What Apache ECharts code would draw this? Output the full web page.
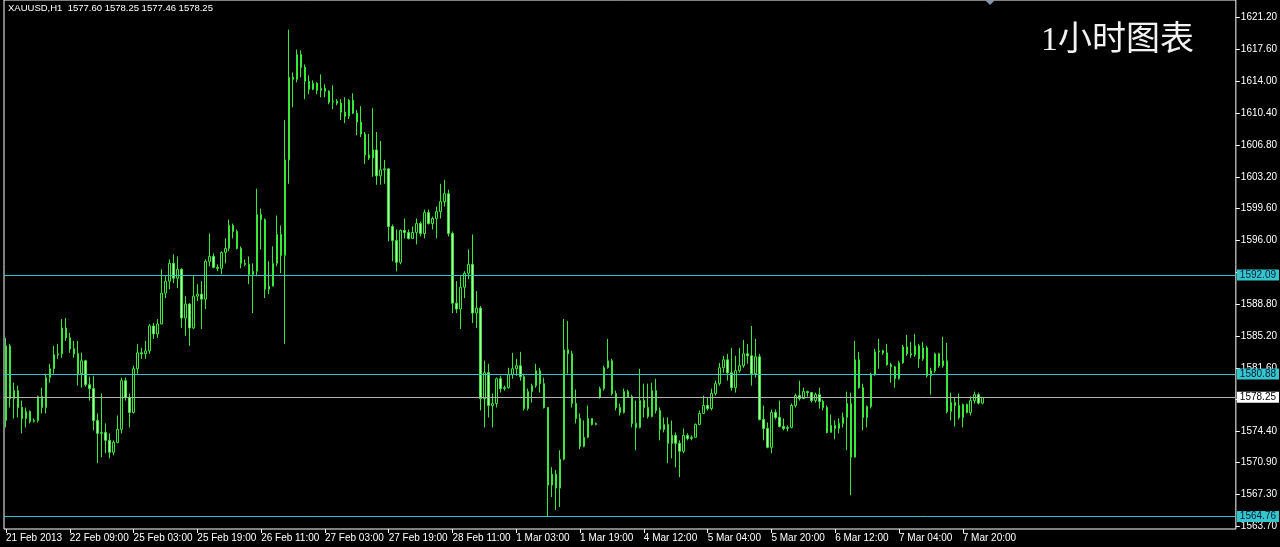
<!DOCTYPE html>
<html>
<head>
<meta charset="utf-8">
<script src="https://cdn.jsdelivr.net/npm/echarts@6/dist/echarts.min.js"></script>
<style>
html,body{margin:0;padding:0;background:#000;}
#chart{width:1280px;height:547px;}
</style>
</head>
<body>
<div id="chart"></div>
<script>
var symbolTitle = 'XAUUSD,H1  1577.60 1578.25 1577.46 1578.25';
var chartLabel = '1小时图表';

var xTickLabels = ['21 Feb 2013','22 Feb 09:00','25 Feb 03:00','25 Feb 19:00','26 Feb 11:00','27 Feb 03:00','27 Feb 19:00','28 Feb 11:00','1 Mar 03:00','1 Mar 19:00','4 Mar 12:00','5 Mar 04:00','5 Mar 20:00','6 Mar 12:00','7 Mar 04:00','7 Mar 20:00'];
var barsPerTick = 16;
var slotCount = 309;

var yTickValues = [1621.2,1617.6,1614.0,1610.4,1606.8,1603.2,1599.6,1596.0,1592.4,1588.8,1585.2,1581.6,1578.0,1574.4,1570.9,1567.3,1563.7];
var yLabelValues = [1621.2,1617.6,1614.0,1610.4,1606.8,1603.2,1599.6,1596.0,1588.8,1585.2,1581.6,1574.4,1570.9,1567.3,1563.7];
var levelLines = [1592.09, 1580.88, 1564.76];
var lastPrice = 1578.25;

var opens = [
1575.64,1584.08,1578.11,1579.01,1577.10,1575.86,1576.65,1575.53,1575.64,1578.34,
1577.10,1580.48,1581.49,1583.06,1583.18,1586.10,1584.98,1583.74,1583.18,1580.93,
1582.39,1579.69,1579.24,1575.64,1574.18,1574.29,1573.39,1572.04,1573.16,1574.63,
1580.14,1578.23,1576.54,1581.49,1583.29,1583.18,1583.51,1586.33,1585.43,1586.55,
1590.04,1591.39,1593.41,1591.73,1592.74,1587.23,1588.80,1586.10,1589.70,1589.93,
1589.36,1593.64,1594.20,1592.96,1592.85,1594.65,1595.10,1597.69,1597.01,1595.10,
1593.41,1593.30,1592.18,1592.51,1598.93,1598.36,1590.49,1590.83,1593.41,1596.68,
1594.31,1605.11,1614.45,1614.23,1617.04,1615.58,1614.00,1613.10,1613.78,1612.99,
1613.21,1612.88,1611.64,1611.75,1611.53,1610.51,1610.06,1611.86,1610.40,1609.39,
1608.04,1605.68,1605.34,1606.24,1603.31,1603.99,1604.10,1597.58,1596.00,1593.53,
1597.13,1596.90,1596.23,1596.90,1597.91,1596.79,1599.15,1597.91,1598.48,1599.26,
1600.39,1601.29,1596.79,1588.91,1588.24,1590.71,1592.29,1593.30,1587.79,1588.35,
1578.11,1581.04,1577.33,1577.55,1580.36,1579.24,1579.35,1580.81,1581.49,1581.83,
1580.59,1576.99,1578.90,1579.58,1581.26,1579.80,1577.10,1568.33,1569.56,1567.99,
1571.25,1583.63,1583.18,1577.55,1575.86,1572.71,1573.73,1575.86,1575.19,1578.23,
1579.24,1581.60,1582.39,1578.68,1577.10,1576.54,1578.90,1578.34,1575.30,1574.85,
1577.89,1577.10,1576.09,1579.01,1576.77,1574.63,1575.19,1573.05,1573.95,1573.05,
1572.15,1573.95,1573.61,1573.73,1575.19,1576.43,1577.33,1576.99,1578.68,1579.80,
1581.60,1582.50,1581.04,1579.35,1581.26,1581.83,1583.18,1582.95,1580.93,1582.84,
1575.75,1574.74,1572.60,1576.54,1575.98,1574.96,1574.74,1574.85,1577.33,1578.45,
1578.11,1578.90,1578.79,1577.89,1578.56,1577.78,1577.10,1574.29,1575.08,1574.74,
1575.30,1575.98,1577.55,1571.48,1582.50,1579.35,1575.98,1577.21,1580.81,1583.40,
1583.51,1583.29,1581.94,1581.71,1580.36,1582.16,1583.96,1583.18,1583.06,1584.08,
1582.61,1583.85,1580.70,1581.26,1583.18,1581.83,1582.39,1576.65,1577.66,1577.33,
1575.98,1577.44,1576.54,1577.89,1578.56,1577.60
];

var closes = [
1584.08,1578.11,1579.01,1577.10,1575.86,1576.65,1575.53,1575.64,1578.34,1577.10,
1580.48,1581.49,1583.06,1583.18,1586.10,1584.98,1583.74,1583.18,1580.93,1582.39,
1579.69,1579.24,1575.64,1574.18,1574.29,1573.39,1572.04,1573.16,1574.63,1580.14,
1578.23,1576.54,1581.49,1583.29,1583.18,1583.51,1586.33,1585.43,1586.55,1590.04,
1591.39,1593.41,1591.73,1592.74,1587.23,1588.80,1586.10,1589.70,1589.93,1589.36,
1593.64,1594.20,1592.96,1592.85,1594.65,1595.10,1597.69,1597.01,1595.10,1593.41,
1593.30,1592.18,1592.51,1598.93,1598.36,1590.49,1590.83,1593.41,1596.68,1594.31,
1605.11,1614.45,1614.23,1617.04,1615.58,1614.00,1613.10,1613.78,1612.99,1613.21,
1612.88,1611.64,1611.75,1611.53,1610.51,1610.06,1611.86,1610.40,1609.39,1608.04,
1605.68,1605.34,1606.24,1603.31,1603.99,1604.10,1597.58,1596.00,1593.53,1597.13,
1596.90,1596.23,1596.90,1597.91,1596.79,1599.15,1597.91,1598.48,1599.26,1600.39,
1601.29,1596.79,1588.91,1588.24,1590.71,1592.29,1593.30,1587.79,1588.35,1578.11,
1581.04,1577.33,1577.55,1580.36,1579.24,1579.35,1580.81,1581.49,1581.83,1580.59,
1576.99,1578.90,1579.58,1581.26,1579.80,1577.10,1568.33,1569.56,1567.99,1571.25,
1583.63,1583.18,1577.55,1575.86,1572.71,1573.73,1575.86,1575.19,1575.30,1579.24,
1581.60,1582.39,1578.68,1577.10,1576.54,1578.90,1578.34,1575.30,1574.85,1577.89,
1577.10,1576.09,1579.01,1576.77,1574.63,1575.19,1573.05,1573.95,1573.05,1572.15,
1573.95,1573.61,1573.73,1575.19,1576.43,1577.33,1576.99,1578.68,1579.80,1581.60,
1582.50,1581.04,1579.35,1581.26,1581.83,1583.18,1582.95,1580.93,1582.84,1575.75,
1574.74,1572.60,1576.54,1575.98,1574.96,1574.74,1574.85,1577.33,1578.45,1578.11,
1578.90,1578.79,1577.89,1578.56,1577.78,1577.10,1574.29,1575.08,1574.74,1575.30,
1575.98,1577.55,1571.48,1582.50,1579.35,1575.98,1577.21,1580.81,1583.40,1583.51,
1583.29,1581.94,1581.71,1580.36,1582.16,1583.96,1583.18,1583.06,1584.08,1582.61,
1583.85,1580.70,1581.26,1583.18,1581.83,1582.39,1576.65,1577.66,1577.33,1575.98,
1577.44,1576.54,1577.89,1578.56,1577.60,1578.25
];

var highs = [
1584.98,1584.30,1579.91,1579.58,1577.89,1577.10,1576.77,1575.86,1578.45,1579.35,
1580.93,1582.05,1584.08,1584.30,1587.11,1587.23,1585.54,1584.64,1584.64,1583.29,
1582.50,1580.59,1580.70,1576.43,1578.68,1575.30,1574.18,1573.39,1576.20,1580.48,
1580.48,1578.68,1581.83,1584.30,1583.85,1584.64,1586.55,1586.66,1587.11,1592.74,
1591.95,1593.86,1594.43,1594.20,1592.85,1589.70,1588.91,1591.95,1591.05,1591.39,
1593.86,1596.79,1594.54,1593.30,1594.77,1596.23,1598.36,1597.91,1597.24,1595.33,
1593.86,1594.20,1593.41,1601.85,1599.60,1598.48,1593.64,1595.33,1598.81,1597.69,
1609.61,1619.85,1615.02,1617.60,1617.49,1615.91,1614.68,1614.11,1613.89,1614.79,
1613.66,1612.99,1613.55,1611.98,1611.98,1612.20,1611.98,1612.65,1610.74,1611.19,
1608.27,1608.04,1610.96,1608.27,1607.25,1605.11,1604.10,1597.80,1597.24,1597.24,
1598.48,1597.24,1597.58,1598.48,1598.14,1599.49,1599.49,1598.70,1599.83,1602.41,
1602.86,1601.74,1597.01,1591.39,1591.95,1592.52,1594.99,1596.68,1590.27,1588.58,
1582.39,1582.05,1578.68,1580.48,1580.70,1579.58,1581.60,1583.29,1582.61,1583.40,
1580.93,1579.24,1579.80,1582.05,1581.60,1580.48,1577.10,1570.35,1570.02,1572.27,
1587.11,1586.89,1583.52,1579.13,1576.43,1575.64,1577.33,1575.86,1575.41,1579.46,
1581.83,1584.86,1582.61,1579.01,1577.55,1579.24,1579.13,1578.56,1577.89,1581.49,
1579.80,1579.80,1579.91,1580.36,1577.10,1575.98,1575.98,1575.64,1574.29,1573.39,
1574.74,1574.18,1573.95,1575.30,1576.77,1578.45,1578.23,1579.24,1580.14,1582.16,
1582.95,1583.18,1583.85,1582.95,1583.85,1584.75,1584.30,1586.33,1584.86,1583.18,
1577.33,1575.41,1576.88,1576.88,1577.89,1575.86,1575.08,1577.55,1578.68,1580.14,
1579.35,1579.01,1578.79,1578.79,1579.35,1578.00,1577.33,1576.31,1575.64,1575.86,
1576.54,1578.90,1578.79,1584.64,1583.40,1579.80,1577.33,1581.04,1583.74,1584.86,
1583.63,1584.30,1582.16,1581.83,1582.39,1584.19,1585.31,1584.53,1585.43,1584.30,
1584.53,1584.08,1581.60,1583.29,1583.29,1585.09,1584.41,1578.79,1578.23,1578.68,
1577.55,1577.55,1578.34,1578.90,1578.79,1578.25
];

var lows = [
1574.85,1577.10,1575.86,1575.98,1574.18,1574.85,1575.30,1575.41,1575.41,1576.43,
1576.43,1579.91,1580.93,1582.61,1582.73,1584.64,1583.29,1582.73,1579.58,1579.35,
1579.46,1577.89,1574.52,1570.80,1571.48,1571.93,1571.36,1571.70,1573.05,1574.18,
1577.89,1574.85,1576.43,1580.93,1582.61,1582.61,1583.18,1584.86,1584.98,1586.55,
1589.48,1590.49,1591.16,1590.60,1586.10,1585.20,1584.08,1585.99,1589.14,1585.99,
1588.24,1593.08,1592.85,1592.52,1592.18,1593.41,1594.77,1596.23,1594.99,1592.85,
1593.08,1591.05,1587.79,1591.95,1594.99,1589.48,1589.93,1590.83,1593.08,1592.29,
1584.30,1602.41,1611.08,1613.89,1614.45,1611.98,1612.54,1612.99,1612.54,1612.20,
1612.20,1611.41,1610.85,1611.30,1609.61,1609.28,1609.73,1610.29,1607.93,1607.70,
1604.66,1605.11,1603.20,1602.30,1602.30,1602.41,1595.89,1593.64,1592.52,1593.30,
1596.23,1596.11,1596.23,1595.55,1596.45,1596.23,1597.80,1597.24,1596.23,1598.48,
1599.83,1596.45,1587.79,1587.79,1585.99,1589.48,1591.61,1586.66,1586.10,1576.77,
1574.85,1575.98,1574.85,1577.10,1578.79,1579.01,1579.24,1580.36,1580.70,1580.14,
1576.77,1576.77,1577.66,1579.35,1578.79,1576.99,1564.73,1566.98,1565.52,1565.85,
1571.14,1580.93,1577.10,1575.30,1572.38,1572.60,1573.61,1575.08,1575.08,1578.11,
1579.01,1581.49,1578.45,1576.77,1576.20,1576.43,1578.23,1574.85,1572.27,1574.74,
1575.98,1575.86,1575.98,1576.43,1573.39,1574.29,1570.80,1571.36,1570.35,1569.23,
1571.93,1573.39,1573.39,1573.73,1575.08,1576.43,1576.77,1576.77,1578.45,1579.58,
1581.04,1580.14,1579.01,1578.79,1581.04,1581.60,1582.05,1579.58,1580.48,1575.64,
1573.39,1572.49,1571.93,1575.75,1574.85,1574.52,1574.40,1574.74,1577.10,1577.89,
1578.11,1578.34,1577.66,1577.66,1576.99,1576.77,1574.18,1574.29,1573.50,1574.18,
1574.85,1572.27,1567.20,1571.48,1579.24,1574.52,1574.85,1576.99,1580.70,1581.49,
1583.06,1581.83,1579.91,1579.35,1580.25,1582.05,1582.95,1582.73,1582.84,1581.60,
1582.39,1580.48,1578.56,1581.04,1581.60,1581.60,1576.43,1575.64,1574.96,1575.75,
1574.85,1576.43,1576.20,1577.55,1577.44,1577.46
];

var FONT = 'Liberation Sans, Arial, sans-serif';
var candleGreen = '#3ae83a';
var levelColor = '#35c6cc';

var categories = [];
for (var s = 0; s < slotCount; s++) categories.push(String(s));

var candleData = opens.map(function (o, i) {
  return [o, closes[i], lows[i], highs[i]];
});

function isTickIndex(idx) {
  return idx % barsPerTick === 0 && idx / barsPerTick < xTickLabels.length;
}

function levelItem(v, lineColor, bg, fg) {
  return {
    yAxis: v,
    lineStyle: { color: lineColor, width: 1, type: 'solid', opacity: 1 },
    label: {
      show: true, position: 'end', distance: 1,
      formatter: function () { return v.toFixed(2); },
      backgroundColor: bg, color: fg, fontFamily: FONT, fontSize: 10,
      padding: [1, 3, 0, 3]
    }
  };
}

var chart = echarts.init(document.getElementById('chart'), null, { renderer: 'canvas' });
chart.setOption({
  animation: false,
  backgroundColor: '#000',
  title: [
    { text: symbolTitle, left: 8, top: 3, padding: 0,
      textStyle: { color: '#ffffff', fontSize: 9.5, fontWeight: 'normal', fontFamily: FONT } },
    { text: chartLabel, left: 1041, top: 24, padding: 0,
      textStyle: { color: '#f2f2f2', fontSize: 34, fontWeight: 'normal', fontFamily: 'Liberation Serif, Noto Sans CJK SC, serif' } }
  ],
  graphic: [
    { type: 'polygon', shape: { points: [[985, 0], [995, 0], [990, 5]] }, style: { fill: '#8a96a8' } }
  ],
  grid: { left: 4, right: 42, top: -3, bottom: 18, show: true, borderColor: '#ffffff', borderWidth: 1, backgroundColor: '#000' },
  xAxis: {
    type: 'category',
    data: categories,
    boundaryGap: true,
    axisLine: { show: false },
    axisTick: { show: true, alignWithLabel: true, interval: function (i) { return isTickIndex(i); }, length: 4, lineStyle: { color: '#ffffff' } },
    axisLabel: {
      show: true, interval: function (i) { return isTickIndex(i); },
      formatter: function (v, i) { return xTickLabels[i / barsPerTick]; },
      align: 'left', margin: 4,
      color: '#ffffff', fontSize: 10, fontFamily: FONT
    },
    splitLine: { show: false }
  },
  yAxis: {
    type: 'value',
    position: 'right',
    min: 1563.36,
    max: 1623.20,
    axisLine: { show: false },
    axisTick: { show: true, customValues: yTickValues, length: 4, lineStyle: { color: '#ffffff' } },
    axisLabel: {
      show: true, customValues: yLabelValues, margin: 5,
      formatter: function (v) { return v.toFixed(2); },
      color: '#ffffff', fontSize: 10, fontFamily: FONT
    },
    splitLine: { show: false }
  },
  series: [{
    type: 'candlestick',
    data: candleData,
    barWidth: 2,
    itemStyle: {
      color: '#000000', color0: '#b8ffb0',
      borderColor: candleGreen, borderColor0: candleGreen, borderColorDoji: candleGreen,
      borderWidth: 1
    },
    markLine: {
      silent: true, symbol: ['none', 'none'], animation: false,
      data: [
        levelItem(levelLines[0], levelColor, levelColor, '#0a1a3a'),
        levelItem(levelLines[1], levelColor, levelColor, '#0a1a3a'),
        levelItem(levelLines[2], levelColor, levelColor, '#0a1a3a'),
        levelItem(lastPrice, '#b4b4b4', '#ffffff', '#000000')
      ]
    }
  }]
});
</script>
</body>
</html>
